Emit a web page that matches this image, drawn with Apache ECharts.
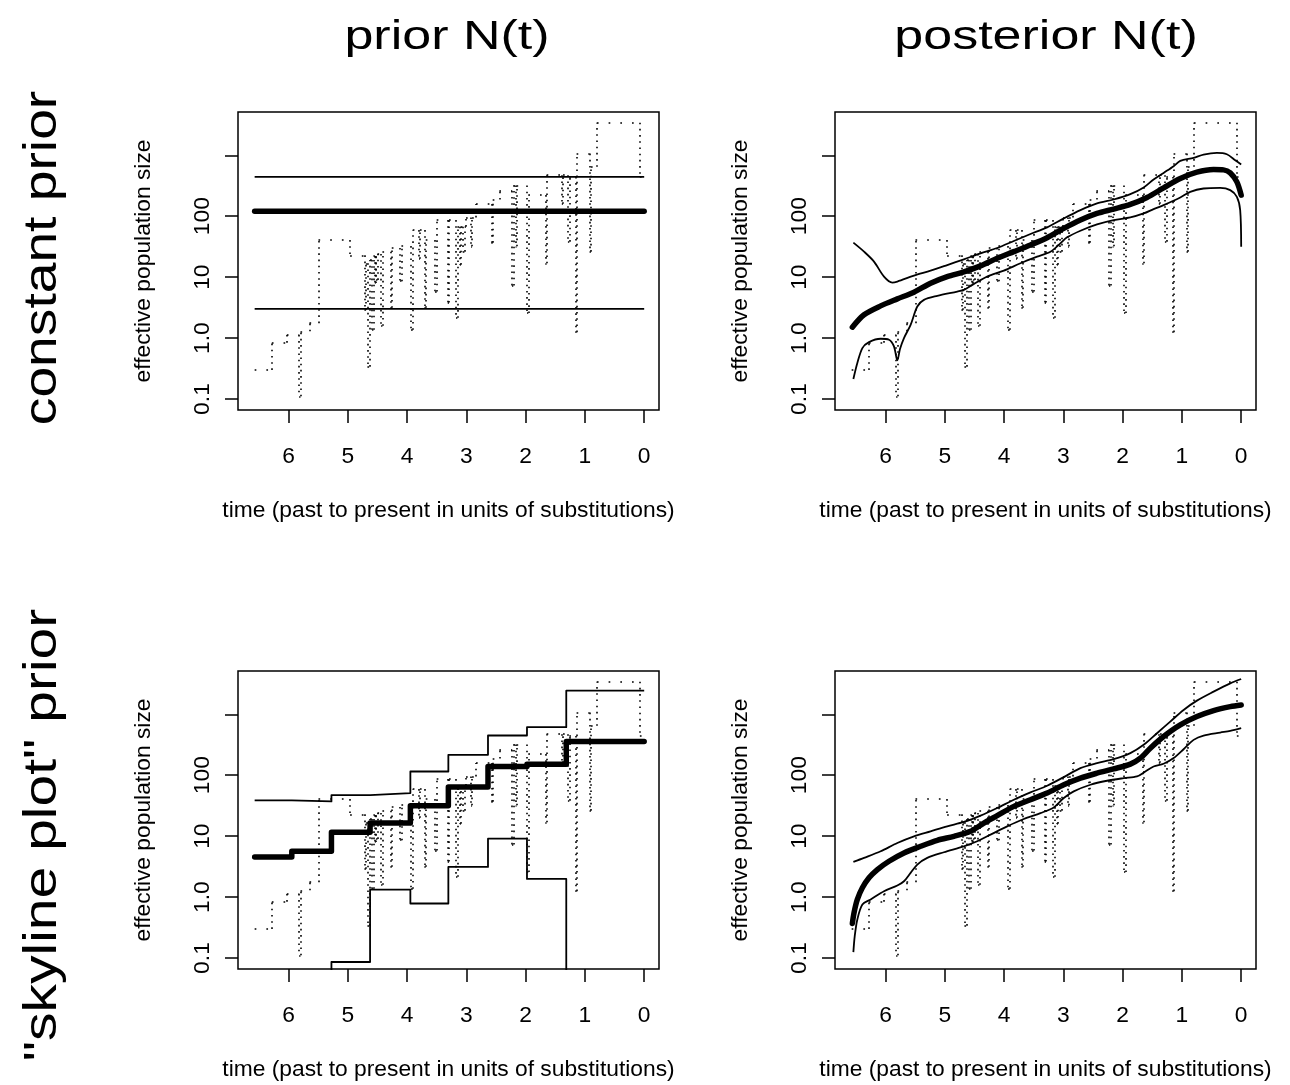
<!DOCTYPE html>
<html><head><meta charset="utf-8">
<script src="https://cdn.jsdelivr.net/npm/echarts@6/dist/echarts.min.js"></script>
<style>html,body{margin:0;padding:0;background:#fff}#c{width:1290px;height:1085px}</style>
</head><body><div id="c"></div><script>
// ---------- tick labels ----------
const xTicks = [0, 1, 2, 3, 4, 5, 6];
const yTickLogs = [-1, 0, 1, 2, 3];          // log10 positions of ticks (0.1 .. 1000)
const yLabelLogs = [-1, 0, 1, 2];
const yLabelTexts = ['0.1', '1.0', '10', '100'];
const colTitles = ['prior N(t)', 'posterior N(t)'];
const rowTitles = ['constant prior', '"skyline plot" prior'];
const xName = 'time (past to present in units of substitutions)';
const yName = 'effective population size';

// ---------- classic skyline (dotted, same in all panels) ----------
const skyTime = [6.574, 6.284, 6.031, 5.823, 5.801, 5.649, 5.497, 4.963, 4.722, 4.693, 4.671, 4.626, 4.592, 4.570,
  4.545, 4.530, 4.525, 4.502, 4.440, 4.418, 4.283, 4.260, 4.120, 4.097, 3.935, 3.906, 3.800, 3.785, 3.710, 3.687,
  3.530, 3.502, 3.316, 3.294, 3.176, 3.153, 3.110, 3.095, 3.063, 3.030, 3.007, 2.920, 2.905, 2.838, 2.580, 2.557,
  2.445, 2.231, 2.209, 2.170, 2.155, 1.978, 1.956, 1.669, 1.647, 1.390, 1.370, 1.287, 1.264, 1.163, 1.141, 0.922,
  0.899, 0.798, 0.073, 0];
const skyN = [0.30, 0.84, 1.13, 0.111, 1.29, 1.76, 40.6, 22.8, 2.91, 16.9, 0.34, 19.1, 1.37, 22.2,
  8.0, 22.2, 9.0, 24.0, 1.59, 26.2, 3.14, 30.1, 8.57, 32.4, 1.37, 59.3, 20.0, 59.3, 3.14, 40.6,
  5.81, 86.5, 3.84, 86.5, 2.15, 67.3, 16.0, 67.3, 26.2, 67.3, 95.5, 32.0, 95.5, 158, 36.8, 188,
  261, 7.28, 319, 32.0, 319, 2.57, 222, 16.9, 471, 160, 471, 38.2, 442, 1.25, 1066, 26.2,
  645, 3427, 442];

// ---------- panel A: constant prior, prior N(t) ----------
const constRange = [6.574, 0];
const constMean = 121;
const constUpper = 443;
const constLower = 3.02;

// ---------- panel B: constant prior, posterior N(t) ----------
const postCTime = [6.562, 6.365, 6.084, 5.803, 5.522, 5.242, 4.961, 4.680, 4.399, 4.118, 3.837, 3.556, 3.275, 2.994,
  2.713, 2.433, 2.152, 1.871, 1.590, 1.309, 1.028, 0.747, 0.466, 0.298, 0.185, 0.073, 0.0];
const postCMean = [1.51, 2.41, 3.38, 4.40, 5.66, 7.95, 10.2, 12.2, 15.3, 20.4, 26.2, 33.7, 44.4, 63.1, 86.5, 111, 131,
  156, 203, 292, 416, 528, 583, 576, 514, 366, 222];
const postCUpTime = [6.545, 6.365, 6.197, 6.028, 5.888, 5.803, 5.522, 5.242, 4.961, 4.680, 4.399, 4.118, 3.837, 3.556,
  3.275, 2.994, 2.713, 2.433, 2.152, 1.871, 1.646, 1.478, 1.309, 1.140, 1.028, 0.803, 0.635, 0.410, 0.242, 0.101, 0.0];
const postCUp = [36.8, 26.2, 18.0, 10.2, 8.15, 8.46, 10.6, 12.8, 15.8, 19.6, 24.6, 30.1, 39.2, 51.0, 65.6, 92.1, 126,
  162, 188, 230, 296, 400, 514, 661, 809, 906, 1026, 1093, 1040, 830, 705];
const postCLoTime = [6.545, 6.478, 6.393, 6.281, 6.084, 5.944, 5.860, 5.803, 5.758, 5.691, 5.579, 5.466, 5.354, 5.129,
  4.792, 4.680, 4.511, 4.287, 4.006, 3.725, 3.444, 3.219, 3.051, 2.938, 2.713, 2.433, 2.152, 1.871, 1.646, 1.478,
  1.309, 1.028, 0.860, 0.635, 0.354, 0.185, 0.073, 0.017, 0.0];
const postCLo = [0.213, 0.390, 0.686, 0.859, 0.975, 0.939, 0.730, 0.431, 0.660, 1.00, 1.65, 3.30, 4.24, 4.93, 5.81,
  6.18, 7.75, 10.2, 12.8, 16.9, 21.7, 26.2, 35.9, 45.0, 57.8, 73.4, 86.5, 95.5, 111, 131, 152, 203, 251, 285, 292,
  268, 208, 126, 31.6];

// ---------- panel C: skyline prior, prior N(t) (step functions) ----------
const stepTime = [6.574, 5.947, 5.278, 4.626, 3.946, 3.305, 2.636, 1.978, 1.315, 0];
const stepMean = [4.56, 5.65, 11.6, 16.4, 31.6, 63.9, 139, 152, 357];
const stepUpper = [38.6, 37.2, 47.2, 50.9, 115, 216, 448, 613, 2443];
const stepLower = [0.01, 0.01, 0.086, 1.33, 0.785, 3.13, 9.1, 1.99, 0.01];

// ---------- panel D: skyline prior, posterior N(t) ----------
const postSTime = [6.562, 6.534, 6.478, 6.393, 6.281, 6.140, 5.944, 5.691, 5.410, 5.129, 4.848, 4.567, 4.343, 4.118,
  3.837, 3.556, 3.275, 2.994, 2.713, 2.433, 2.152, 1.871, 1.702, 1.534, 1.309, 1.028, 0.747, 0.466, 0.185, 0.0];
const postSMean = [0.370, 0.552, 0.914, 1.42, 2.07, 2.83, 3.88, 5.31, 6.82, 8.55, 9.94, 12.0, 16.4, 21.7, 30.8, 39.6,
  50.9, 69.7, 89.7, 108, 127, 152, 191, 278, 432, 670, 916, 1148, 1336, 1422];
const postSUpTime = [6.545, 6.365, 6.084, 5.803, 5.522, 5.242, 4.961, 4.680, 4.399, 4.118, 3.837, 3.556, 3.275, 2.994,
  2.713, 2.433, 2.152, 1.871, 1.646, 1.421, 1.197, 0.972, 0.747, 0.466, 0.185, 0.0];
const postSUp = [3.78, 4.40, 5.65, 7.73, 9.94, 12.0, 14.5, 17.1, 21.7, 28.9, 39.6, 52.2, 67.1, 93.1, 131, 158, 183,
  230, 315, 489, 759, 1178, 1675, 2351, 3219, 3793];
const postSLoTime = [6.545, 6.522, 6.478, 6.393, 6.253, 6.028, 5.803, 5.691, 5.579, 5.466, 5.298, 5.017, 4.680, 4.455,
  4.230, 3.949, 3.669, 3.388, 3.163, 2.994, 2.826, 2.545, 2.264, 1.983, 1.758, 1.618, 1.478, 1.309, 1.140, 0.972,
  0.803, 0.635, 0.354, 0.185, 0.0];
const postSLo = [0.125, 0.229, 0.430, 0.757, 0.914, 1.25, 1.55, 1.82, 2.50, 3.42, 4.40, 5.44, 6.82, 8.24, 10.6, 14.5,
  19.1, 23.9, 29.6, 42.2, 54.2, 69.7, 81.1, 89.5, 95.5, 115, 139, 154, 191, 267, 380, 448, 501, 533, 590];

// ---------- helpers ----------
const lg = v => Math.log10(v);
function stepPts(times, vals) {
  const out = [];
  for (let i = 0; i < vals.length; i++) {
    out.push([times[i], lg(vals[i])]);
    out.push([times[i + 1], lg(vals[i])]);
  }
  return out;
}
function curvePts(times, vals) { return times.map((t, i) => [t, lg(vals[i])]); }
// separate horizontal / vertical pieces of a step function (for dotted rendering)
function stepHoriz(times, vals) {
  return vals.map((v, i) => ({ coords: [[times[i], lg(v)], [times[i + 1], lg(v)]] }));
}
function stepVert(times, vals) {
  const out = [];
  for (let i = 0; i < vals.length - 1; i++) {
    out.push({ coords: [[times[i + 1], lg(vals[i])], [times[i + 1], lg(vals[i + 1])]] });
  }
  return out;
}

const FONT = '"Liberation Sans", Arial, Helvetica, sans-serif';
const X_MIN = -0.25, X_MAX = 6.855;
const Y_MIN = -1.18, Y_MAX = 3.71;
const panels = [
  { left: 238, top: 112 }, { left: 835, top: 112 },
  { left: 238, top: 671 }, { left: 835, top: 671 }
];
const PW = 421, PH = 298;

const grids = [], xAxes = [], yAxes = [], series = [];
panels.forEach((p, i) => {
  grids.push({ left: p.left, top: p.top, width: PW, height: PH, show: true,
    borderColor: '#000', borderWidth: 1.5, backgroundColor: 'transparent', containLabel: false });
  xAxes.push({
    type: 'value', gridIndex: i, inverse: true, min: X_MIN, max: X_MAX, position: 'bottom',
    axisLine: { show: false, onZero: false }, splitLine: { show: false },
    axisTick: { show: true, inside: false, length: 13, lineStyle: { color: '#000', width: 1.5 }, customValues: xTicks },
    axisLabel: { color: '#000', fontSize: 22.8, fontFamily: FONT, margin: 35, customValues: xTicks,
      formatter: v => String(Math.round(v)) },
    name: xName, nameLocation: 'middle', nameGap: 89,
    nameTextStyle: { color: '#000', fontSize: 22.8, fontFamily: FONT }
  });
  yAxes.push({
    type: 'value', gridIndex: i, min: Y_MIN, max: Y_MAX, position: 'left',
    axisLine: { show: false, onZero: false }, splitLine: { show: false },
    axisTick: { show: true, inside: false, length: 13, lineStyle: { color: '#000', width: 1.5 }, customValues: yTickLogs },
    axisLabel: { color: '#000', fontSize: 22.8, fontFamily: FONT, margin: 24, rotate: 90, customValues: yLabelLogs,
      formatter: v => { const k = yLabelLogs.findIndex(a => Math.abs(a - v) < 1e-6); return k >= 0 ? yLabelTexts[k] : ''; } },
    name: yName, nameLocation: 'middle', nameRotate: 90, nameGap: 83,
    nameTextStyle: { color: '#000', fontSize: 22.8, fontFamily: FONT }
  });
  series.push({
    type: 'lines', coordinateSystem: 'cartesian2d', xAxisIndex: i, yAxisIndex: i, silent: true, clip: true,
    data: stepHoriz(skyTime, skyN), lineStyle: { color: '#000', width: 1.7, type: [1.7, 10], cap: 'butt', opacity: 1 }, z: 1
  });
  series.push({
    type: 'lines', coordinateSystem: 'cartesian2d', xAxisIndex: i, yAxisIndex: i, silent: true, clip: true,
    data: stepVert(skyTime, skyN), lineStyle: { color: '#000', width: 1.6, type: [1.6, 4.6], cap: 'butt', opacity: 1 }, z: 1
  });
});

const thick = { color: '#000', width: 5.5, cap: 'round', join: 'round' };
const thin = { color: '#000', width: 1.8, cap: 'butt', join: 'round' };
function ln(i, data, style, smooth) {
  series.push({ type: 'line', xAxisIndex: i, yAxisIndex: i, data: data, symbol: 'none', silent: true,
    smooth: smooth || false, lineStyle: style, z: 3 });
}
// panel A
ln(0, constRange.map(t => [t, lg(constUpper)]), thin);
ln(0, constRange.map(t => [t, lg(constLower)]), thin);
ln(0, constRange.map(t => [t, lg(constMean)]), thick);
// panel B
ln(1, curvePts(postCUpTime, postCUp), thin, 0.3);
ln(1, curvePts(postCLoTime, postCLo), thin, 0.3);
ln(1, curvePts(postCTime, postCMean), thick, 0.3);
// panel C
ln(2, stepPts(stepTime, stepUpper), thin);
ln(2, stepPts(stepTime, stepLower), thin);
ln(2, stepPts(stepTime, stepMean), thick);
// panel D
ln(3, curvePts(postSUpTime, postSUp), thin, 0.3);
ln(3, curvePts(postSLoTime, postSLo), thin, 0.3);
ln(3, curvePts(postSTime, postSMean), thick, 0.3);

const titleStyle = (txt, fs) => ({ text: txt, fontSize: fs, fontFamily: FONT, fill: '#000', align: 'center', verticalAlign: 'middle' });
const graphic = [
  { type: 'text', x: 447, y: 38, scaleX: 1.3, style: titleStyle(colTitles[0], 40) },
  { type: 'text', x: 1046, y: 38, scaleX: 1.3, style: titleStyle(colTitles[1], 40) },
  { type: 'text', x: 43, y: 258, rotation: Math.PI / 2, scaleX: 1.2, style: titleStyle(rowTitles[0], 46) },
  { type: 'text', x: 43, y: 835, rotation: Math.PI / 2, scaleX: 1.24, style: titleStyle(rowTitles[1], 46) }
];

const chart = echarts.init(document.getElementById('c'), null, { renderer: 'canvas' });
chart.setOption({
  animation: false, backgroundColor: '#fff',
  grid: grids, xAxis: xAxes, yAxis: yAxes, series: series, graphic: graphic
});
</script></body></html>
